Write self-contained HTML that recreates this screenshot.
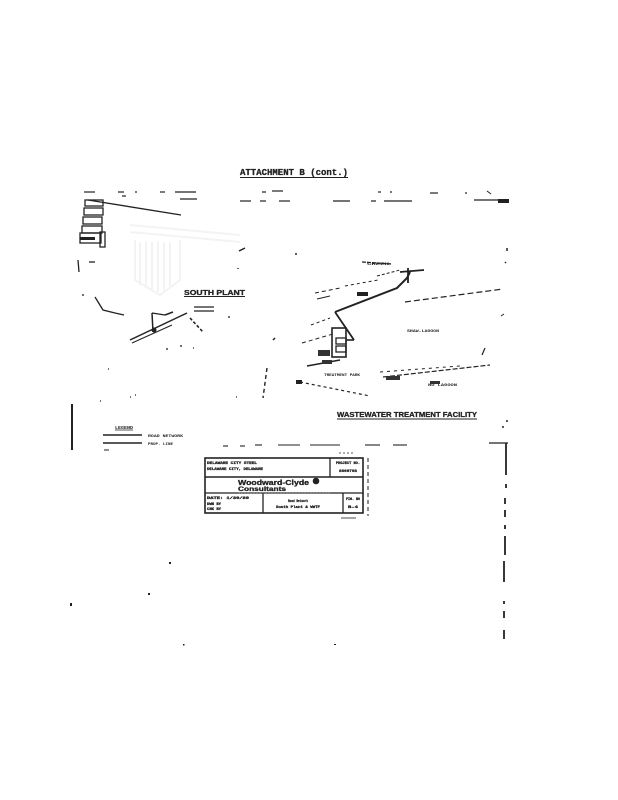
<!DOCTYPE html>
<html><head><meta charset="utf-8">
<style>
html,body{margin:0;padding:0;background:#fff;}
svg{display:block;}
text{font-family:"Liberation Mono",monospace;font-weight:bold;fill:#222;}
.s{font-family:"Liberation Sans",sans-serif;}
.b{stroke:#222;stroke-width:0.3;}
</style></head>
<body>
<svg width="618" height="800" viewBox="0 0 618 800" xmlns="http://www.w3.org/2000/svg">
<rect width="618" height="800" fill="#fff"/>
<!-- Title -->
<text class="b" x="240" y="175" font-size="9" textLength="108" lengthAdjust="spacingAndGlyphs">ATTACHMENT B (cont.)</text>
<line x1="240" y1="177.5" x2="348" y2="177.5" stroke="#222" stroke-width="1"/>

<!-- top broken border lines -->
<g stroke="#222" stroke-width="1.2">
<line x1="84" y1="192" x2="95" y2="192"/><line x1="118" y1="192" x2="124" y2="192"/><line x1="135" y1="192" x2="137" y2="192"/>
<line x1="160" y1="192" x2="165" y2="192"/><line x1="175" y1="192" x2="196" y2="192"/>
<line x1="262" y1="192" x2="266" y2="192"/><line x1="272" y1="191" x2="283" y2="191"/>
<line x1="378" y1="192" x2="381" y2="192"/><line x1="390" y1="192" x2="392" y2="192"/><line x1="430" y1="193" x2="438" y2="193"/><line x1="465" y1="193" x2="467" y2="193"/>
<line x1="122" y1="196" x2="126" y2="196"/><line x1="180" y1="199" x2="197" y2="199"/>
<line x1="240" y1="201" x2="251" y2="201"/><line x1="260" y1="201" x2="266" y2="201"/><line x1="279" y1="201" x2="290" y2="201"/>
<line x1="333" y1="201" x2="350" y2="201"/><line x1="371" y1="201" x2="376" y2="201"/><line x1="384" y1="201" x2="412" y2="201"/>
<line x1="474" y1="200" x2="506" y2="200"/>
</g>
<rect x="498" y="199" width="11" height="4" fill="#222"/>
<line x1="487" y1="191" x2="491" y2="194" stroke="#222" stroke-width="1"/>

<!-- left rectangle stack -->
<g stroke="#222" stroke-width="1.3" fill="none">
<rect x="85" y="200" width="18" height="6"/>
<rect x="84" y="208" width="19" height="7"/>
<rect x="83" y="217" width="19" height="7"/>
<rect x="82" y="226" width="20" height="7"/>
<rect x="80" y="233" width="21" height="10"/>
<rect x="100" y="232" width="5" height="15"/>
<line x1="88" y1="200" x2="181" y2="215"/>
<line x1="78" y1="260" x2="79" y2="272"/>
<line x1="89" y1="262" x2="95" y2="262"/>
</g>
<rect x="80" y="237" width="15" height="3" fill="#222"/>
<!-- faint logo -->
<g stroke="#f3f3f3" stroke-width="2" fill="none">
<line x1="130" y1="225" x2="240" y2="235"/>
<line x1="130" y1="232" x2="240" y2="242"/>
<path d="M135 240 L135 280 L160 295 L180 280 L180 240"/>
<line x1="140" y1="242" x2="140" y2="285"/><line x1="146" y1="242" x2="146" y2="288"/>
<line x1="152" y1="242" x2="152" y2="290"/><line x1="158" y1="242" x2="158" y2="292"/>
<line x1="164" y1="242" x2="164" y2="290"/><line x1="170" y1="242" x2="170" y2="286"/>
</g>

<!-- small marks -->
<g stroke="#222" stroke-width="1.5">
<line x1="239" y1="251" x2="245" y2="248"/>
<line x1="296" y1="253" x2="296" y2="255"/>
<line x1="238" y1="268" x2="238" y2="269"/>
<line x1="507" y1="248" x2="507" y2="251"/>
<line x1="505" y1="262" x2="506" y2="263"/>
</g>

<!-- SOUTH PLANT -->
<text class="s b" x="184" y="295" font-size="7.5" textLength="61" lengthAdjust="spacingAndGlyphs">SOUTH PLANT</text>
<line x1="184" y1="296.5" x2="245" y2="296.5" stroke="#222" stroke-width="0.9"/>
<g stroke="#222" fill="none">
<polyline points="95,297 103,310 115,313 124,315" stroke-width="1.3"/>
<line x1="130" y1="340" x2="187" y2="313" stroke-width="1.5"/>
<line x1="132" y1="343" x2="172" y2="325" stroke-width="1"/>
<line x1="152" y1="313" x2="153" y2="332" stroke-width="1.5"/>
<line x1="152" y1="313" x2="165" y2="315" stroke-width="1.2"/>
<line x1="165" y1="315" x2="173" y2="312" stroke-width="1.5"/>
<line x1="194" y1="307" x2="214" y2="307" stroke-width="1.2"/>
<line x1="194" y1="311" x2="214" y2="311" stroke-width="1.2"/>
<line x1="190" y1="318" x2="203" y2="332" stroke-width="1.6" stroke-dasharray="3,2"/>
</g>
<circle cx="154" cy="330" r="2.5" fill="#222"/>
<g stroke="#222" stroke-width="1.3">
<line x1="166" y1="349" x2="168" y2="349"/><line x1="180" y1="346" x2="182" y2="346"/><line x1="193" y1="348" x2="194" y2="348"/>
<line x1="82" y1="295" x2="84" y2="295"/><line x1="228" y1="317" x2="230" y2="317"/>
<line x1="108" y1="369" x2="109" y2="369"/><line x1="130" y1="397" x2="131" y2="397"/>
<line x1="135" y1="395" x2="136" y2="395"/><line x1="236" y1="397" x2="237" y2="397"/>
<line x1="100" y1="401" x2="101" y2="401"/>
</g>

<!-- WWTF map -->
<g stroke="#222" fill="none">
<polyline points="335,312 397,288 407,278 410,272" stroke-width="2"/>
<line x1="408" y1="268" x2="408" y2="283" stroke-width="1.8"/>
<line x1="400" y1="272" x2="424" y2="270" stroke-width="1.8"/>
<line x1="362" y1="262" x2="392" y2="264" stroke-width="1.3" stroke-dasharray="4,1"/>
<line x1="377" y1="276" x2="400" y2="270" stroke-width="1" stroke-dasharray="3,2"/>
<line x1="345" y1="286" x2="378" y2="280" stroke-width="1" stroke-dasharray="3,3"/>
<line x1="315" y1="293" x2="340" y2="288" stroke-width="1" stroke-dasharray="4,3"/>
<line x1="317" y1="299" x2="330" y2="296" stroke-width="1"/>
<line x1="335" y1="312" x2="354" y2="340" stroke-width="1.8"/>
<rect x="332" y="328" width="14" height="29" stroke-width="1.6"/>
<rect x="336" y="338" width="10" height="6" stroke-width="1.3"/>
<rect x="336" y="346" width="10" height="6" stroke-width="1.3"/>
<line x1="346" y1="340" x2="354" y2="340" stroke-width="1.6"/>
<line x1="405" y1="302" x2="503" y2="289" stroke-width="1.2" stroke-dasharray="6,3"/>
<line x1="311" y1="325" x2="330" y2="318" stroke-width="1" stroke-dasharray="3,3"/>
<line x1="302" y1="343" x2="333" y2="334" stroke-width="1" stroke-dasharray="4,3"/>
<line x1="307" y1="366" x2="340" y2="360" stroke-width="1.6"/>
<line x1="300" y1="382" x2="370" y2="396" stroke-width="1.2" stroke-dasharray="3,3"/>
<line x1="383" y1="377" x2="490" y2="365" stroke-width="1.2" stroke-dasharray="5,2"/>
<line x1="380" y1="372" x2="460" y2="366" stroke-width="1" stroke-dasharray="3,4"/>
<line x1="485" y1="348" x2="482" y2="355" stroke-width="1.2"/>
<line x1="504" y1="314" x2="501" y2="316" stroke-width="1"/>
<line x1="267" y1="368" x2="263" y2="398" stroke-width="1.4" stroke-dasharray="4,3"/>
<line x1="273" y1="340" x2="275" y2="338" stroke-width="1.5"/>
</g>
<rect x="357" y="292" width="11" height="4" fill="#222"/>
<rect x="318" y="350" width="12" height="6" fill="#333"/>
<rect x="322" y="360" width="10" height="4" fill="#333"/>
<rect x="296" y="380" width="6" height="4" fill="#222"/>
<rect x="386" y="376" width="14" height="4" fill="#333"/>
<rect x="430" y="381" width="10" height="3" fill="#333"/>
<text x="324" y="376" font-size="3.5" textLength="36" lengthAdjust="spacingAndGlyphs">TREATMENT PARK</text>
<text x="407" y="332" font-size="3.5" textLength="32" lengthAdjust="spacingAndGlyphs">SHAW-LAGOON</text>
<text x="428" y="386" font-size="3.5" textLength="29" lengthAdjust="spacingAndGlyphs">NO LAGOON</text>
<text x="367" y="265" font-size="3.5" textLength="22" lengthAdjust="spacingAndGlyphs">CREEK</text>

<!-- WWTF title -->
<text class="s b" x="337" y="417" font-size="7.5" textLength="140" lengthAdjust="spacingAndGlyphs">WASTEWATER TREATMENT FACILITY</text>
<line x1="337" y1="419" x2="477" y2="419" stroke="#222" stroke-width="0.9"/>

<!-- legend -->
<line x1="72" y1="404" x2="72" y2="450" stroke="#222" stroke-width="2"/>
<text x="115" y="429" font-size="4.5" textLength="18" lengthAdjust="spacingAndGlyphs">LEGEND</text>
<line x1="115" y1="430" x2="133" y2="430" stroke="#222" stroke-width="0.8"/>
<line x1="103" y1="435" x2="142" y2="435" stroke="#222" stroke-width="1.5"/>
<line x1="103" y1="443" x2="142" y2="443" stroke="#222" stroke-width="1.5"/>
<text x="148" y="437" font-size="3.5" textLength="35" lengthAdjust="spacingAndGlyphs">ROAD NETWORK</text>
<text x="148" y="445" font-size="3.5" textLength="25" lengthAdjust="spacingAndGlyphs">PROP. LINE</text>
<line x1="104" y1="450" x2="109" y2="450" stroke="#222" stroke-width="1"/>

<!-- dashed border lower -->
<g stroke="#222" stroke-width="1.1">
<line x1="223" y1="446" x2="228" y2="446"/><line x1="240" y1="446" x2="245" y2="446"/><line x1="255" y1="445" x2="262" y2="445"/>
<line x1="278" y1="445" x2="300" y2="445"/><line x1="310" y1="445" x2="340" y2="445"/><line x1="365" y1="445" x2="380" y2="445"/>
<line x1="393" y1="445" x2="407" y2="445"/>
</g>
<line x1="489" y1="443" x2="508" y2="443" stroke="#222" stroke-width="1.2"/>
<g stroke="#222" stroke-width="1.8">
<line x1="506" y1="443" x2="506" y2="475"/>
<line x1="506" y1="484" x2="506" y2="488"/>
<line x1="505" y1="498" x2="505" y2="504"/>
<line x1="505" y1="510" x2="505" y2="517"/>
<line x1="505" y1="525" x2="505" y2="529"/>
<line x1="505" y1="536" x2="505" y2="555"/>
<line x1="504" y1="561" x2="504" y2="582"/>
<line x1="504" y1="601" x2="504" y2="604"/>
<line x1="504" y1="611" x2="504" y2="618"/>
<line x1="504" y1="630" x2="504" y2="639"/>
</g>
<line x1="507" y1="420" x2="507" y2="422" stroke="#222" stroke-width="1.5"/>
<line x1="502" y1="427" x2="504" y2="427" stroke="#222" stroke-width="1.5"/>

<!-- title block -->
<g stroke="#222" fill="none">
<rect x="205" y="458" width="158" height="55" stroke-width="1.6"/>
<line x1="205" y1="477" x2="363" y2="477" stroke-width="1.4"/>
<line x1="330" y1="458" x2="330" y2="477" stroke-width="1.3"/>
<line x1="205" y1="493" x2="363" y2="493" stroke-width="1.3"/>
<line x1="263" y1="493" x2="263" y2="513" stroke-width="1.3"/>
<line x1="343" y1="493" x2="343" y2="513" stroke-width="1.3"/>
<line x1="339" y1="453" x2="355" y2="453" stroke-width="0.8" stroke-dasharray="2,2"/>
<line x1="341" y1="518" x2="356" y2="518" stroke-width="0.8"/>
<line x1="368" y1="458" x2="368" y2="516" stroke-width="1" stroke-dasharray="4,3"/>
</g>
<text class="b" x="207" y="464" font-size="4" textLength="50" lengthAdjust="spacingAndGlyphs">DELAWARE CITY STEEL</text>
<text class="b" x="207" y="470" font-size="4" textLength="56" lengthAdjust="spacingAndGlyphs">DELAWARE CITY, DELAWARE</text>
<text class="b" x="336" y="464" font-size="4" textLength="24" lengthAdjust="spacingAndGlyphs">PROJECT NO.</text>
<text class="b" x="339" y="472" font-size="4" textLength="18" lengthAdjust="spacingAndGlyphs">8600703</text>
<text class="s b" x="238" y="485" font-size="7" textLength="71" lengthAdjust="spacingAndGlyphs">Woodward-Clyde</text>
<circle cx="316" cy="481" r="3.3" fill="#222"/>
<text class="s b" x="238" y="491" font-size="6.5" textLength="48" lengthAdjust="spacingAndGlyphs">Consultants</text>
<line x1="238" y1="493" x2="330" y2="493" stroke="#444" stroke-width="1" stroke-dasharray="2,1"/>
<text class="b" x="207" y="499" font-size="3.5" textLength="42" lengthAdjust="spacingAndGlyphs">DATE: 1/30/89</text>
<text class="b" x="207" y="505" font-size="3.5" textLength="14" lengthAdjust="spacingAndGlyphs">DWN BY</text>
<text class="b" x="207" y="510" font-size="3.5" textLength="14" lengthAdjust="spacingAndGlyphs">CHK BY</text>
<text class="b" x="288" y="502" font-size="4" textLength="20" lengthAdjust="spacingAndGlyphs">Road Network</text>
<text class="b" x="276" y="508" font-size="4" textLength="44" lengthAdjust="spacingAndGlyphs">South Plant &amp; WWTF</text>
<text class="b" x="346" y="500" font-size="3.5" textLength="14" lengthAdjust="spacingAndGlyphs">FIG. NO</text>
<text class="b" x="348" y="508" font-size="4" textLength="10" lengthAdjust="spacingAndGlyphs">B-4</text>

<!-- scattered dots -->
<g fill="#222">
<rect x="169" y="562" width="2" height="2"/>
<rect x="148" y="593" width="2" height="2"/>
<rect x="70" y="603" width="2" height="3"/>
<rect x="183" y="644" width="1.5" height="1.5"/>
<rect x="334" y="644" width="2" height="1"/>
</g>
</svg>
</body></html>
